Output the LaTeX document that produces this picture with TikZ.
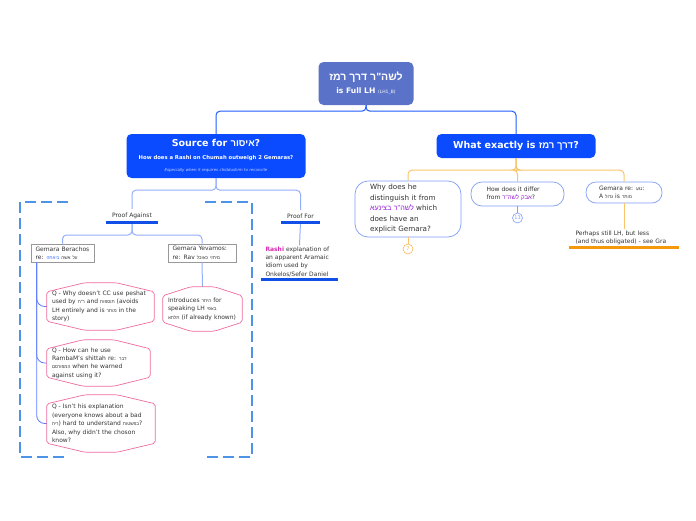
\documentclass[tikz,border=0pt]{standalone}
\usepackage{fontspec}
\setmainfont{DejaVu Sans}
\newfontfamily\hebfont[Script=Hebrew]{Liberation Sans}
\TeXXeTstate=1
\usetikzlibrary{positioning,calc}

\definecolor{rootblue}{HTML}{5A72C8}
\definecolor{topicblue}{HTML}{0A4BFF}
\definecolor{lineblue}{HTML}{1E5BFF}
\definecolor{paleline}{HTML}{93AEFA}
\definecolor{leafblue}{HTML}{5B7BFF}
\definecolor{framblue}{HTML}{4D94E8}
\definecolor{barblue}{HTML}{1050E6}
\definecolor{hexpink}{HTML}{EF6B9E}
\definecolor{orline}{HTML}{F9C46B}
\definecolor{orbar}{HTML}{F5990C}
\definecolor{bubble}{HTML}{7F9EF7}
\definecolor{txtgray}{HTML}{333333}
\definecolor{hpurple}{HTML}{9B1FD6}
\definecolor{rashipink}{HTML}{D62AB0}
\definecolor{hebblue}{HTML}{3A6BFF}
\definecolor{paleblue}{HTML}{C9D5FF}

\newcommand{\hb}[1]{{\hebfont\beginR#1\endR}}
\newcommand{\smalltxt}{\fontsize{6}{8.4}\selectfont}
\newcommand{\tinyheb}{\fontsize{4.6}{6}\selectfont}

\begin{document}
\begin{tikzpicture}[x=1pt,y=-1pt,
    rootbox/.style={fill=rootblue,rounded corners=5pt,text=white,font=\bfseries,
                    align=center,minimum width=95pt,minimum height=43pt,inner sep=2pt},
    topicbox/.style={fill=topicblue,rounded corners=5pt,text=white,font=\bfseries,
                     align=center,inner sep=2pt},
    gembox/.style={draw=gray!80,line width=0.6pt,fill=white,text=txtgray,font=\smalltxt,
                   align=left,inner xsep=4.5pt,inner ysep=2.5pt},
    hexnode/.style={text=txtgray,font=\smalltxt,align=left,inner xsep=5pt},
    hexline/.style={draw=hexpink,line width=0.7pt,rounded corners=2pt},
    bubblebox/.style={draw=bubble,line width=0.7pt,fill=white,text=txtgray,align=left},
    plain/.style={text=txtgray,font=\smalltxt,align=left,inner xsep=4.5pt,inner ysep=1pt},
    rootline/.style={draw=lineblue,line width=1pt,rounded corners=4pt},
    subline/.style={draw=paleline,line width=1pt,rounded corners=4pt},
    leafline/.style={draw=leafblue,line width=0.8pt,rounded corners=8pt},
    orangeline/.style={draw=orline,line width=1pt,rounded corners=4pt},
    bar/.style={line width=3pt,draw=barblue},
    orangebar/.style={line width=3pt,draw=orbar},
    framing/.style={draw=framblue,line width=1.2pt,dash pattern=on 11pt off 5pt},
    countdot/.style={circle,draw,fill=white,line width=0.6pt,inner sep=0pt,
                     minimum size=10pt,font=\fontsize{5}{5}\selectfont}]

  \useasboundingbox (0,0) rectangle (696,520);

  % central topic
  \node[rootbox] (root) at (366,83.5)
    {{\fontsize{10.5}{13}\selectfont\hb{לשה"ר דרך רמז}}\\[1pt]
     {\fontsize{7.6}{9}\selectfont is Full LH {\fontsize{4.5}{5}\selectfont\mdseries(LH1\_B)}}};

  % main topics
  \node[topicbox,minimum width=179pt,minimum height=44pt] (src) at (216,156)
    {{\fontsize{9.5}{11}\selectfont Source for \hb{איסור}?}\\[0.5pt]
     {\fontsize{5.3}{7}\selectfont How does a Rashi on Chumah outweigh 2 Gemaras?}\\[0.5pt]
     {\fontsize{4}{5}\selectfont\mdseries\itshape\color{paleblue}Especially when it requires chiddushim to reconcile}};
  \node[topicbox,minimum width=159pt,minimum height=24pt] (what) at (516,146)
    {{\fontsize{9.5}{12}\selectfont What exactly is \hb{דרך רמז}?}};

  % left branch
  \node[plain,anchor=south,minimum width=51pt,inner ysep=3.5pt,align=center] (pa) at (132,222) {Proof Against};
  \node[plain,anchor=south,minimum width=39pt,inner ysep=3.5pt,align=center] (pf) at (300.5,222) {Proof For};

  \node[gembox,text width=54pt] (ber) at (62.5,253)
    {Gemara Berachos\\ re: {\tinyheb\textcolor{hebblue}{\hb{ביאתה}} \hb{על אשה}}};
  \node[gembox,text width=59pt] (yev) at (202,253)
    {Gemara Yevamos:\\ re: Rav {\tinyheb\hb{מיחזי כאוכל}}};

  \node[hexnode,text width=97pt,minimum height=47pt] (q1) at (100.5,306.5)
    {Q - Why doesn't CC use peshat\\ used by {\tinyheb\hb{ר"ח}} and {\tinyheb\hb{תוספות}} (avoids\\
     LH entirely and is {\tinyheb\hb{מותר}} in the\\ story)};
  \node[hexnode,text width=93pt,minimum height=46pt] (q2) at (98.5,363)
    {Q - How can he use\\ RambaM's shittah re: {\tinyheb\hb{דבר}}\\
     {\tinyheb\hb{המפורסם}} when he warned\\ against using it?};
  \node[hexnode,text width=98pt,minimum height=57pt] (q3) at (101,423.5)
    {Q - Isn't his explanation\\ (everyone knows about a bad\\
     {\tinyheb\hb{ריח}}) hard to understand {\tinyheb\hb{בפשטות}}?\\
     Also, why didn't the choson\\ know?};
  \node[hexnode,text width=69pt,minimum height=44pt] (intro) at (202.5,309)
    {Introduces {\tinyheb\hb{היתר}} for\\ speaking LH {\tinyheb\hb{באפי}}\\ {\tinyheb\hb{תלתא}} (if already known)};

  \node[plain,text width=68pt,anchor=south] (rashi) at (299.5,278)
    {\textcolor{rashipink}{\textbf{Rashi}} explanation of\\ an apparent Aramaic\\ idiom used by\\ Onkelos/Sefer Daniel};

  % right branch
  \node[bubblebox,rounded corners=13pt,text width=76pt,inner xsep=15pt,minimum height=56pt,
        font=\fontsize{7.2}{10.5}\selectfont] (why) at (408,209)
    {Why does he\\ distinguish it from\\ \textcolor{hpurple}{\hb{לשה"ר בצינעא}} which\\ does have an\\ explicit Gemara?};
  \node[bubblebox,rounded corners=11pt,text width=62pt,inner xsep=15.5pt,minimum height=24pt,
        font=\smalltxt] (differ) at (517.5,194)
    {How does it differ\\ from \textcolor{hpurple}{\hb{אבק לשה"ר}}?};
  \node[bubblebox,rounded corners=10pt,text width=50pt,inner xsep=13pt,minimum height=21pt,
        font=\smalltxt] (gem) at (624,192.5)
    {Gemara re: {\tinyheb\hb{נגע}}:\\ A {\tinyheb\hb{גדול}} is {\tinyheb\hb{מותר}}};
  \node[plain,text width=97pt,anchor=south] (perhaps) at (624,246)
    {Perhaps still LH, but less\\ (and thus obligated) - see Gra};

  \node[countdot,draw=orbar!70,text=orbar!80] (c1) at (408,249) {7};
  \node[countdot,draw=bubble,text=bubble] (c2) at (517.5,218) {13};

  % connectors
  \draw[rootline] (root.south) -- ++(0,6) -| (src.north);
  \draw[rootline] (root.south) -- ++(0,6) -| (what.north);
  \draw[subline] (src.south) -- ++(0,12) -| (pa.north);
  \draw[subline] (src.south) -- ++(0,12) -| (pf.north);
  \draw[subline] (pa.south) -- ++(0,13) -| (ber.north);
  \draw[subline] (pa.south) -- ++(0,13) -| (yev.north);
  \draw[subline] (pf.south) -- (rashi.north);
  \draw[subline] (yev.south) -- (intro.north);
  \foreach \q in {q1,q2,q3}
    \draw[leafline] ($(ber.south west)+(6,0)$) |- (\q.west);

  \draw[orangeline] (what.south) -- ++(0,12) -| (why.north);
  \draw[orangeline] (what.south) -- ++(0,12) -| (differ.north);
  \draw[orangeline] (what.south) -- ++(0,12) -| (gem.north);
  \draw[orangeline] (gem.south) -- (perhaps.north);
  \draw[orangeline] (why.south) -- (c1.north);
  \draw[draw=bubble,line width=0.8pt] (differ.south) -- (c2.north);

  % hexagon outlines
  \foreach \n in {q1,q2,q3,intro}
    \draw[hexline] ($(\n.north west)+(0,9)$) -- ($(\n.north west)!0.35!(\n.north east)$)
      -- ($(\n.north west)!0.65!(\n.north east)$) -- ($(\n.north east)+(0,9)$)
      -- ($(\n.south east)+(0,-9)$) -- ($(\n.south west)!0.65!(\n.south east)$)
      -- ($(\n.south west)!0.35!(\n.south east)$) -- ($(\n.south west)+(0,-9)$) -- cycle;

  % underline bars
  \draw[bar] (pa.south west) -- (pa.south east);
  \draw[bar] (pf.south west) -- (pf.south east);
  \draw[bar] ($(rashi.south west)+(0,1)$) -- ($(rashi.south east)+(0,1)$);
  \draw[orangebar] ($(perhaps.south west)+(-2,1)$) -- ($(perhaps.south east)+(2,1)$);

  % boundary around the proofs against
  \draw[framing] (68,202) -| (20,457) -- (68,457);
  \draw[framing] (205,202) -| (252,457) -- (205,457);
\end{tikzpicture}
\end{document}
